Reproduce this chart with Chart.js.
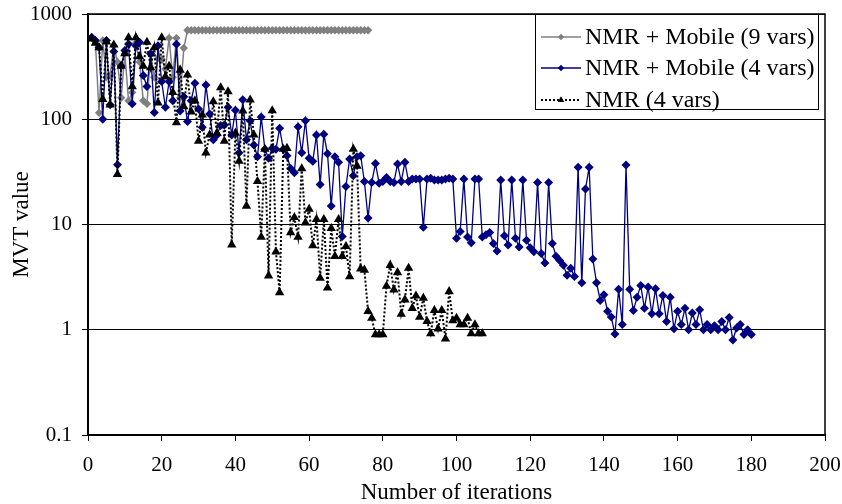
<!DOCTYPE html>
<html>
<head>
<meta charset="utf-8">
<script src="https://cdn.jsdelivr.net/npm/chart.js@4/dist/chart.umd.min.js"></script>
<style>
  html, body { margin: 0; padding: 0; background: #fff; }
  canvas { display: block; }
</style>
</head>
<body>
<canvas id="mvtChart" width="842" height="504"></canvas>
<script>
// values, iteration = index + 1
const mobile9Vars = [
  600, 550, 115, 560, 250, 260, 500, 350, 160, 420,
  150, 180, 530, 350, 150, 140, 420, 250, 380, 370,
  300, 590, 250, 590, 160, 475, 700, 700, 700, 700,
  700, 700, 700, 700, 700, 700, 700, 700, 700, 700,
  700, 700, 700, 700, 700, 700, 700, 700, 700, 700,
  700, 700, 700, 700, 700, 700, 700, 700, 700, 700,
  700, 700, 700, 700, 700, 700, 700, 700, 700, 700,
  700, 700, 700, 700, 700, 700
];

const mobile4Vars = [
  600, 560, 480, 100, 560, 137, 440, 37, 320, 450,
  520, 140, 500, 540, 260, 205, 420, 116, 500, 228,
  130, 228, 150, 517, 120, 164, 95, 150, 220, 125,
  84, 212, 112, 64, 71, 87, 88, 130, 71, 122,
  48, 153, 64, 97, 57, 44, 105, 52, 42.5, 53,
  52, 82, 52, 45, 34, 31, 85, 48, 97, 42.5,
  40, 71, 24, 72, 47, 15, 44, 39, 7.7, 23,
  42, 29, 44, 45, 25.6, 11.5, 25, 38, 24.7, 25.6,
  28, 25.6, 25, 37.6, 25.6, 39, 25.6, 27, 27, 27,
  9.4, 27, 27.5, 26.5, 26.5, 26.5, 27, 27.5, 27, 7.4,
  8.6, 27, 7.6, 6.7, 27, 27, 7.6, 8, 8.4, 6.6,
  5.6, 26.5, 7.8, 6.4, 26.5, 7.4, 6.1, 26.5, 7.1, 6.0,
  5.5, 25, 5.3, 4.3, 25, 6.6, 5.0, 4.55, 4.1, 3.3,
  3.85, 3.2, 35, 2.8, 21.7, 35, 4.7, 2.8, 1.9, 2.15,
  1.5, 1.32, 0.91, 2.43, 1.12, 36.8, 2.43, 1.52, 2.04, 2.63,
  1.6, 2.55, 1.42, 2.45, 1.42, 2.12, 1.2, 2.04, 1.02, 1.5,
  1.12, 1.6, 1.0, 1.44, 1.12, 1.55, 1.0, 1.12, 1.0, 1.09,
  1.0, 1.2, 1.0, 1.31, 0.8, 1.04, 1.12, 0.9, 1.0, 0.9
];

const nmr4Vars = [
  580, 530, 480, 155, 545, 137, 510, 30, 320, 420,
  597, 205, 597, 394, 320, 540, 310, 480, 143, 597,
  255, 320, 180, 93, 294, 132, 264, 118, 150, 62,
  110, 48, 71, 147, 74, 200, 62, 183, 6.4, 74,
  40, 120, 15, 153, 71, 25.7, 7.6, 52, 3.26, 121,
  5.5, 2.26, 52, 53, 8.4, 11.7, 7.6, 34, 10.4, 14,
  6.3, 11.2, 3.1, 11.2, 2.5, 9.2, 5.0, 11.2, 5.0, 6.2,
  3.2, 52, 36, 3.8, 3.7, 1.5, 1.29, 0.9, 0.9, 0.9,
  2.6, 4.1, 2.4, 3.5, 1.41, 1.93, 3.85, 1.6, 2.1, 1.32,
  2.0, 1.2, 0.92, 1.53, 1.02, 1.53, 0.82, 2.31, 1.22, 1.29,
  1.12, 1.12, 1.29, 0.92, 1.12, 0.92, 0.92
];

const seriesLabels = ['NMR + Mobile (9 vars)', 'NMR + Mobile (4 vars)', 'NMR (4 vars)'];
const yTicks = [0.1, 1, 10, 100, 1000];
const xTicks = [0, 20, 40, 60, 80, 100, 120, 140, 160, 180, 200];

const FONT = "'Liberation Serif', 'Times New Roman', serif";

const toPoints = (arr) => arr.map((v, i) => ({ x: i + 1, y: v }));

const datasets = [
  {
    label: seriesLabels[0],
    data: toPoints(mobile9Vars),
    borderColor: '#808080',
    backgroundColor: '#808080',
    borderWidth: 1.5,
    pointStyle: 'rectRot',
    pointRadius: 4.2,
    pointBorderWidth: 0,
    order: 3
  },
  {
    label: seriesLabels[1],
    data: toPoints(mobile4Vars),
    borderColor: '#000080',
    backgroundColor: '#000080',
    borderWidth: 1.3,
    pointStyle: 'rectRot',
    pointRadius: 4.5,
    pointBorderWidth: 0,
    order: 2
  },
  {
    label: seriesLabels[2],
    data: toPoints(nmr4Vars),
    borderColor: '#000000',
    backgroundColor: '#000000',
    borderWidth: 2,
    borderDash: [2, 2],
    pointStyle: 'triangle',
    pointRadius: 5.4,
    pointBorderWidth: 0,
    order: 1
  }
];

// frame round the plot + legend box inside the plot area
const framePlugin = {
  id: 'frameAndLegend',
  beforeDraw(chart) {
    const ctx = chart.ctx;
    ctx.save();
    ctx.fillStyle = '#fff';
    ctx.fillRect(0, 0, chart.width, chart.height);
    ctx.restore();
  },
  afterDraw(chart) {
    const ctx = chart.ctx;
    const a = chart.chartArea;
    ctx.save();
    ctx.strokeStyle = '#000';
    ctx.lineWidth = 1.5;
    ctx.strokeRect(a.left, a.top, a.right - a.left, a.bottom - a.top);

    // legend
    const bx = 535, by = a.top, bw = 283, bh = 95;
    ctx.fillStyle = '#fff';
    ctx.fillRect(bx, by, bw, bh);
    ctx.lineWidth = 1;
    ctx.strokeStyle = '#000';
    ctx.strokeRect(bx + 0.5, by + 0.5, bw, bh);

    const rows = [37, 68, 100];
    ctx.font = '24px ' + FONT;
    ctx.textBaseline = 'middle';
    ctx.textAlign = 'left';
    datasets.forEach((ds, i) => {
      const y = rows[i];
      ctx.strokeStyle = ds.borderColor;
      ctx.lineWidth = ds.borderWidth;
      ctx.setLineDash(ds.borderDash || []);
      ctx.beginPath();
      ctx.moveTo(541, y);
      ctx.lineTo(581, y);
      ctx.stroke();
      ctx.setLineDash([]);
      ctx.fillStyle = ds.backgroundColor;
      ctx.strokeStyle = ds.backgroundColor;
      Chart.helpers.drawPoint(ctx, {
        pointStyle: ds.pointStyle,
        radius: i === 2 ? 3.8 : 3.2,
        rotation: 0,
        borderWidth: 0
      }, 561, y);
      ctx.fillStyle = '#000';
      ctx.fillText(ds.label, 585, y + 1);
    });
    ctx.restore();
  }
};

new Chart(document.getElementById('mvtChart'), {
  type: 'line',
  data: { datasets: datasets },
  options: {
    responsive: false,
    animation: false,
    layout: { padding: { top: 14, right: 17, left: 0, bottom: 0 } },
    plugins: {
      legend: { display: false },
      tooltip: { enabled: false }
    },
    elements: { line: { tension: 0 } },
    scales: {
      x: {
        type: 'linear',
        min: 0,
        max: 200,
        afterBuildTicks: (scale) => { scale.ticks = xTicks.map(v => ({ value: v })); },
        afterFit: (scale) => {
          scale.height = 69;
          scale.paddingLeft = 0;
          scale.paddingRight = 0;
        },
        border: { display: true, color: '#000', width: 2 },
        grid: { drawOnChartArea: false, drawTicks: true, tickLength: 6, color: '#000' },
        ticks: {
          color: '#000',
          padding: 12,
          maxRotation: 0,
          font: { family: FONT, size: 21 }
        },
        title: {
          display: true,
          text: 'Number of iterations',
          color: '#000',
          padding: { top: 0, bottom: 0 },
          font: { family: FONT, size: 23, lineHeight: 1 }
        }
      },
      y: {
        type: 'logarithmic',
        min: 0.1,
        max: 1000,
        afterBuildTicks: (scale) => { scale.ticks = yTicks.map(v => ({ value: v })); },
        afterFit: (scale) => {
          scale.width = 88;
          scale.paddingTop = 0;
          scale.paddingBottom = 0;
        },
        border: { display: true, color: '#000', width: 2 },
        grid: { drawOnChartArea: true, drawTicks: true, tickLength: 6, color: '#000', lineWidth: 1 },
        ticks: {
          color: '#000',
          padding: 10,
          font: { family: FONT, size: 21 },
          callback: (v) => String(v)
        },
        title: {
          display: true,
          text: 'MVT value',
          color: '#000',
          padding: { top: 8, bottom: 0 },
          font: { family: FONT, size: 23 }
        }
      }
    }
  },
  plugins: [framePlugin]
});
</script>
</body>
</html>
